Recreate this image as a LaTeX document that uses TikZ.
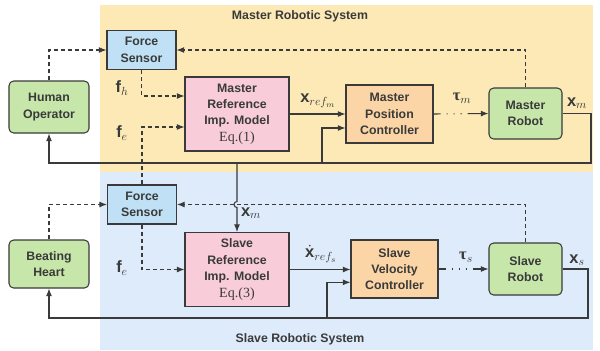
\documentclass[tikz,border=0pt]{standalone}
\usepackage{fontspec}
\setmainfont{Liberation Sans}
\newfontfamily\eqfont{Liberation Serif}
\usepackage{amsmath,bm}
\usepackage{xcolor}
\definecolor{mastbg}{HTML}{FCE9B6}
\definecolor{slavbg}{HTML}{DDEBFB}
\definecolor{sensblue}{HTML}{C0E1F5}
\definecolor{agentgreen}{HTML}{C7E6A9}
\definecolor{modelpink}{HTML}{F8CDD9}
\definecolor{ctrlorange}{HTML}{FCD5A7}
\definecolor{inkgray}{HTML}{3A3A3A}
\usepackage{tikz}
\usetikzlibrary{arrows.meta}
\tikzset{
  blk/.style      ={rectangle, draw=inkgray, line width=0.9pt, text=inkgray, align=center, inner sep=0pt,
                    font=\bfseries\fontsize{10.5}{14}\selectfont},
  sensbox/.style  ={blk, fill=sensblue, minimum width=2.07cm, minimum height=1.17cm},
  agentbox/.style ={blk, rounded corners=4pt, fill=agentgreen},
  modelbox/.style ={blk, fill=modelpink, minimum width=3.12cm, minimum height=2.22cm},
  ctrlbox/.style  ={blk, fill=ctrlorange, minimum width=2.61cm, minimum height=1.74cm},
  sarr/.style     ={-{Latex[length=2.3mm, width=1.8mm]}, line width=0.9pt, color=inkgray},
  darr/.style     ={sarr, dash pattern=on 1.2mm off 0.9mm},
  tarr/.style     ={sarr, dash pattern=on 2.1mm off 1.8mm on 0.3mm off 1.8mm on 0.3mm off 1.8mm on 0.3mm off 1.8mm on 8mm},
  sigl/.style     ={text=inkgray, inner sep=1pt, font=\fontsize{14}{16}\selectfont},
  ttl/.style      ={text=inkgray, font=\bfseries\fontsize{10.5}{12}\selectfont},
}
\newcommand{\eqlbl}[1]{{\eqfont\mdseries\fontsize{12}{14}\selectfont Eq.(#1)}}
\newcommand{\btau}{\text{\eqfont\bfseries τ}}

\begin{document}
\begin{tikzpicture}[x=0.03cm, y=-0.03cm]
  \useasboundingbox (0,0) rectangle (600,350);
  % system backgrounds
  \fill[mastbg] (100,5) rectangle (593,172);
  \fill[slavbg] (100,172) rectangle (593,350);
  \node[ttl] (mtitle) at (300,16) {Master Robotic System};
  \node[ttl] (stitle) at (300,339) {Slave Robotic System};

  % master side
  \node[sensbox] (fsm) at (141.5,50) {Force\\Sensor};
  \node[agentbox, minimum width=2.4cm, minimum height=1.56cm] (ho) at (49,107) {Human\\Operator};
  \node[modelbox] (mrim) at (237,114) {Master\\Reference\\Imp. Model\\\eqlbl{1}};
  \node[ctrlbox] (mpc) at (389.5,114) {Master\\Position\\Controller};
  \node[agentbox, minimum width=2.19cm, minimum height=1.53cm] (mr) at (525.5,113.5) {Master\\Robot};

  % slave side
  \node[sensbox] (fss) at (142,204.5) {Force\\Sensor};
  \node[agentbox, minimum width=2.4cm, minimum height=1.44cm] (bh) at (49,264) {Beating\\Heart};
  \node[modelbox] (srim) at (237,269.5) {Slave\\Reference\\Imp. Model\\\eqlbl{3}};
  \node[ctrlbox] (svc) at (394.5,269) {Slave\\Velocity\\Controller};
  \node[agentbox, minimum width=2.19cm, minimum height=1.56cm] (sr) at (525.5,269) {Slave\\Robot};

  % feedback corners and taps
  \coordinate (mcorner) at (591,163);
  \coordinate (mtap) at (322,163);
  \coordinate (xtap) at (237,163);
  \coordinate (scorner) at (588,318);
  \coordinate (stap) at (327,318);

  % master loop
  \draw[darr] (ho.north) |- (fsm.west);
  \draw[darr] (mr.north) |- (fsm.east);
  \draw[darr] (fsm.south) |- ([yshift=0.54cm]mrim.west);
  \draw[darr] (fss.north) |- ([yshift=-0.39cm]mrim.west);
  \draw[sarr] (mrim.east) -- (mpc.west);
  \draw[tarr] (mpc.east) -- (mr.west);
  \draw[sarr] (mr.east) -| (mcorner) -| (ho.south);
  \draw[sarr] (mtap) |- ([yshift=-0.42cm]mpc.west);
  \draw[sarr] (xtap) -- ([yshift=0.09cm]xtap |- fss.east)
    arc[start angle=90, end angle=270, radius=0.09cm] -- (srim.north);

  % slave loop
  \draw[darr] (bh.north) |- (fss.west);
  \draw[darr] (sr.north) |- (fss.east);
  \draw[darr] (fss.south) |- (srim.west);
  \draw[sarr] (srim.east) -- (srim.east -| svc.west);
  \draw[tarr] (svc.east) -- (sr.west);
  \draw[sarr] (sr.east) -| (scorner) -| (bh.south);
  \draw[sarr] (stap) |- ([yshift=-0.4cm]svc.west);

  % signal labels
  \node[sigl] (fhl) at (122,88) {$\mathbf{f}_h$};
  \node[sigl] (feml) at (122,133) {$\mathbf{f}_e$};
  \node[sigl] (xrml) at (318,101) {$\mathbf{x}_{ref_m}$};
  \node[sigl] (taml) at (462,98) {$\btau_m$};
  \node[sigl] (xml) at (577,103) {$\mathbf{x}_m$};
  \node[sigl] (xmsl) at (251,213) {$\mathbf{x}_m$};
  \node[sigl] (fesl) at (122,268) {$\mathbf{f}_e$};
  \node[sigl] (xrsl) at (321,254) {$\dot{\mathbf{x}}_{ref_s}$};
  \node[sigl] (tasl) at (466,257) {$\btau_s$};
  \node[sigl] (xsl) at (577,260) {$\mathbf{x}_s$};
\end{tikzpicture}
\end{document}
